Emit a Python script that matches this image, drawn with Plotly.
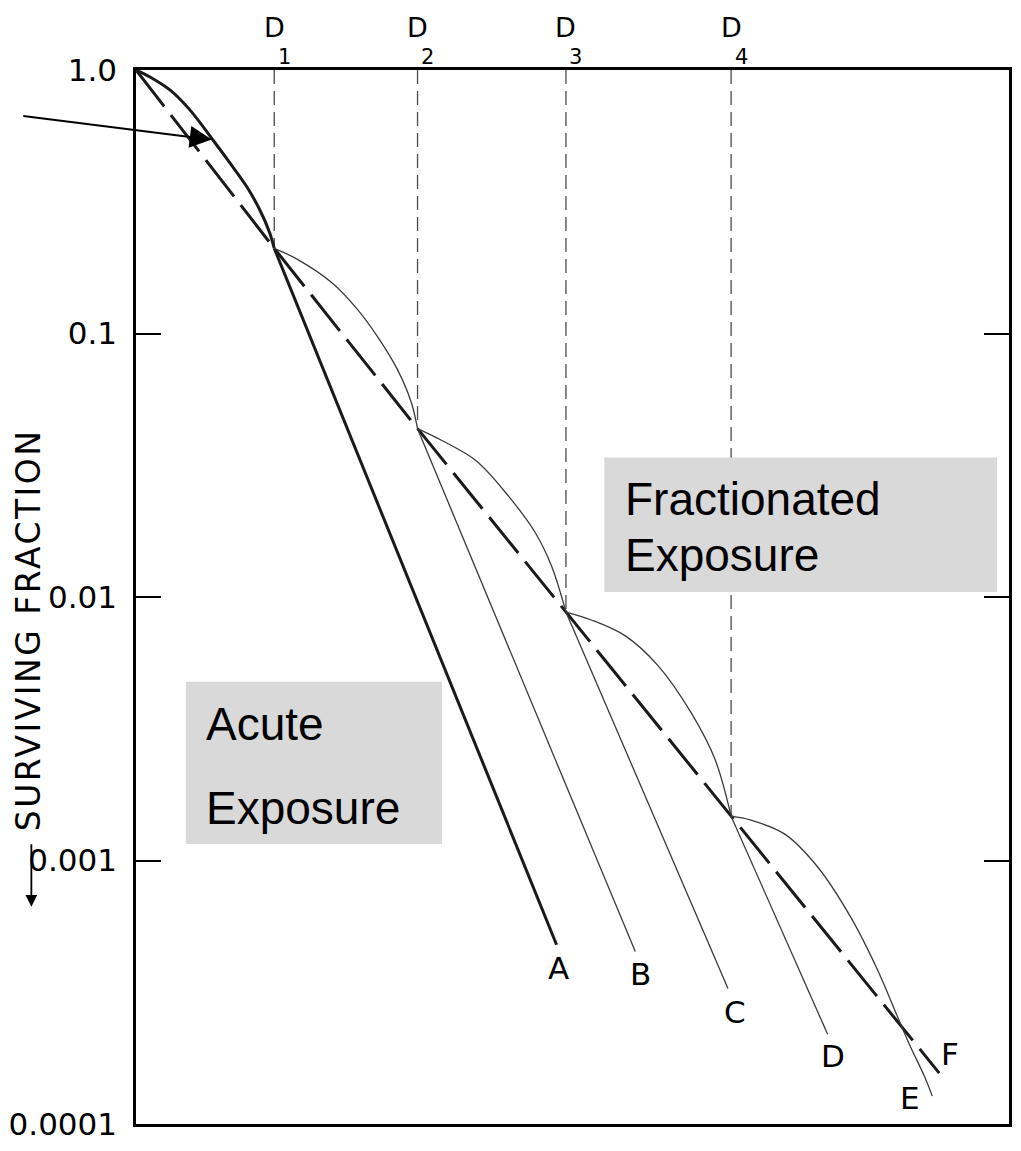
import numpy as np
import plotly.graph_objects as go

# ---------------- data (dose in arbitrary units, surviving fraction) ----------------
fraction_doses = [1.90, 3.87, 5.91, 8.18]          # D1..D4
fraction_labels = ["1", "2", "3", "4"]

acute_dose = [0.0, 0.192, 0.466, 0.740, 1.055, 1.288, 1.521, 1.699, 1.836, 1.90, 5.781]
acute_sf = [1.0, 0.9409, 0.8402, 0.7058, 0.5437, 0.4450, 0.3611, 0.2955, 0.2419, 0.2105, 0.000479]

b_dose = [1.90, 2.219, 2.685, 3.041, 3.315, 3.589, 3.781, 3.87, 6.863]
b_sf = [0.2105, 0.1912, 0.1565, 0.1238, 0.0978, 0.0734, 0.0551, 0.04355, 0.000451]

c_dose = [3.87, 4.205, 4.671, 5.123, 5.493, 5.712, 5.91, 8.137]
c_sf = [0.04355, 0.03924, 0.03296, 0.02409, 0.01746, 0.01310, 0.00877, 0.000327]

d_dose = [5.91, 6.260, 6.726, 7.178, 7.630, 7.959, 8.18, 9.507]
d_sf = [0.00877, 0.00818, 0.00712, 0.00548, 0.00364, 0.00242, 0.001473, 0.000219]

e_dose = [8.18, 8.452, 8.918, 9.370, 9.822, 10.192, 10.466, 10.644, 10.836, 10.945]
e_sf = [0.001473, 0.001423, 0.001259, 0.000945, 0.000611, 0.000385, 0.000256, 0.000197,
        0.000152, 0.0001276]

f_dose = [0.0, 1.90, 3.87, 5.91, 8.18, 11.041]
f_sf = [1.0, 0.2105, 0.04355, 0.00877, 0.001473, 0.000156]

curve_labels = ["A", "B", "C", "D", "E", "F"]

tick_vals = [1.0, 0.1, 0.01, 0.001, 0.0001]
tick_text = ["1.0", "0.1", "0.01", "0.001", "0.0001"]

# ---------------- figure ----------------
W, H = 1021, 1151
ML, MR, MT, MB = 136, 9, 70, 23
PW, PH = W - ML - MR, H - MT - MB


def px_x(px):
    return (px - ML) / PW


def px_y(py):
    return (H - MB - py) / PH


THICK = dict(color="#1a1a1a", width=3)
THIN = dict(color="#3a3a3a", width=1.3)

fig = go.Figure()

# vertical dashed lines at each fraction dose, from top down to the curve
for d, s in zip(fraction_doses, f_sf[1:5]):
    fig.add_trace(go.Scatter(x=[d, d], y=[1.0, s], mode="lines",
                             line=dict(color="#4a4a4a", width=1.3, dash="14px,7px"),
                             hoverinfo="skip"))

# dashed curve F (many small fractions)
fig.add_trace(go.Scatter(x=f_dose, y=f_sf, mode="lines",
                         line=dict(color="#1a1a1a", width=3, dash="46px,11px"),
                         hoverinfo="skip"))

# acute curve: shoulder + straight line A
fig.add_trace(go.Scatter(x=acute_dose[:-1], y=acute_sf[:-1], mode="lines",
                         line=dict(**THICK, shape="spline"), hoverinfo="skip"))
fig.add_trace(go.Scatter(x=acute_dose[-2:], y=acute_sf[-2:], mode="lines",
                         line=THICK, hoverinfo="skip"))

# fractionated curves B, C, D: shoulder + straight tail
for xd, ys in [(b_dose, b_sf), (c_dose, c_sf), (d_dose, d_sf)]:
    fig.add_trace(go.Scatter(x=xd[:-1], y=ys[:-1], mode="lines",
                             line=dict(**THIN, shape="spline"), hoverinfo="skip"))
    fig.add_trace(go.Scatter(x=xd[-2:], y=ys[-2:], mode="lines",
                             line=THIN, hoverinfo="skip"))
# curve E
fig.add_trace(go.Scatter(x=e_dose, y=e_sf, mode="lines",
                         line=dict(**THIN, shape="spline"), hoverinfo="skip"))

annotations = []
LBL_FONT = dict(family="DejaVu Sans", size=31, color="black")

# curve end labels
ends = [(acute_dose[-1], acute_sf[-1]), (b_dose[-1], b_sf[-1]), (c_dose[-1], c_sf[-1]),
        (d_dose[-1], d_sf[-1]), (e_dose[-1], e_sf[-1]), (f_dose[-1], f_sf[-1])]
shifts = [(2, -23), (5, -22), (7, -24), (5, -22), (-22, -2), (11, 19)]
for lab, (xe, ye), (dx, dy) in zip(curve_labels, ends, shifts):
    annotations.append(dict(x=xe, y=np.log10(ye), xref="x", yref="y", text=lab,
                            showarrow=False, xshift=dx, yshift=dy, font=LBL_FONT,
                            xanchor="center", yanchor="middle"))

# D labels on top (letter with the fraction number set below and to the right)
for d, lab in zip(fraction_doses, fraction_labels):
    annotations.append(dict(x=d, y=1, xref="x", yref="paper", text="D", showarrow=False,
                            xshift=0, yshift=43, xanchor="center", yanchor="middle",
                            borderpad=0, font=dict(family="DejaVu Sans", size=27, color="black")))
    annotations.append(dict(x=d, y=1, xref="x", yref="paper", text=lab, showarrow=False,
                            xshift=10, yshift=13, xanchor="center", yanchor="middle",
                            borderpad=0, font=dict(family="DejaVu Sans", size=21, color="black")))

# arrow pointing at the acute shoulder
annotations.append(dict(x=acute_dose[4], y=np.log10(acute_sf[4]), xref="x", yref="y",
                        text="", showarrow=True, ax=-191, ay=-24, axref="pixel", ayref="pixel",
                        arrowhead=2, arrowsize=2.2, arrowwidth=2, arrowcolor="black",
                        standoff=1))

# y-axis title (rotated) with downward arrow
annotations.append(dict(x=px_x(29), y=px_y(632), xref="paper", yref="paper",
                        text='<span style="letter-spacing:2.5px">SURVIVING FRACTION</span>',
                        textangle=-90, showarrow=False, xanchor="center", yanchor="middle",
                        font=dict(family="DejaVu Sans", size=33, color="black")))
annotations.append(dict(x=px_x(31), y=px_y(910), xref="paper", yref="paper", text="",
                        showarrow=True, ax=0, ay=-64, axref="pixel", ayref="pixel",
                        arrowhead=2, arrowsize=1.3, arrowwidth=1.8, arrowcolor="black"))

# text boxes
BOX_FONT = dict(family="Liberation Sans, Arial", size=46, color="black")
shapes = [
    dict(type="rect", xref="paper", yref="paper", x0=px_x(186), x1=px_x(443),
         y0=px_y(847), y1=px_y(684), fillcolor="#d9d9d9", line=dict(width=0), layer="above"),
    dict(type="rect", xref="paper", yref="paper", x0=px_x(606), x1=px_x(1000),
         y0=px_y(594), y1=px_y(459), fillcolor="#d9d9d9", line=dict(width=0), layer="above"),
]
for txt, x, yb in [("Acute", 204, 742), ("Exposure", 204, 827),
                   ("Fractionated", 625, 517), ("Exposure", 625, 573)]:
    annotations.append(dict(x=px_x(x), y=px_y(yb - 16), xref="paper", yref="paper", text=txt,
                            showarrow=False, xanchor="left", yanchor="middle", font=BOX_FONT))

fig.update_layout(width=W, height=H, margin=dict(l=ML, r=MR, t=MT, b=MB),
                  paper_bgcolor="white", plot_bgcolor="white", showlegend=False,
                  annotations=annotations, shapes=shapes)
fig.update_xaxes(range=[0, 12], showgrid=False, zeroline=False, showline=True,
                 linewidth=2.5, linecolor="black", mirror=True, ticks="", showticklabels=False)
fig.update_yaxes(type="log", range=[-4, 0], showgrid=False, zeroline=False, showline=True,
                 linewidth=2.5, linecolor="black", mirror="ticks", ticks="inside", ticklen=25,
                 tickwidth=2, tickcolor="black", tickvals=tick_vals, ticktext=tick_text,
                 tickfont=dict(family="DejaVu Sans", size=31, color="black"),
                 ticklabelstandoff=10)

fig.write_html("out.html", config={"displayModeBar": False},
               post_script="document.body.style.margin='0px';")
